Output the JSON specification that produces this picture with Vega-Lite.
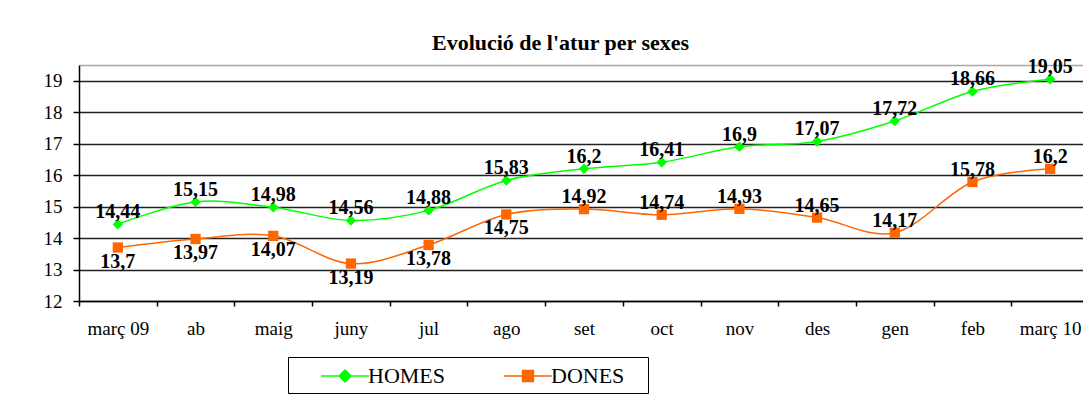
{
  "$schema": "https://vega.github.io/schema/vega-lite/v6.json",
  "width": 1003,
  "height": 236,
  "autosize": {"type": "none"},
  "padding": {"left": 79, "top": 65, "right": 1, "bottom": 108},
  "background": "#ffffff",
  "title": {
    "text": "Evolució de l'atur per sexes",
    "font": "Liberation Serif",
    "fontSize": 22,
    "fontWeight": "bold",
    "color": "#000000",
    "anchor": "middle",
    "dx": -20,
    "offset": 2
  },
  "config": {
    "view": {"stroke": null},
    "font": "Liberation Serif",
    "locale": {
      "number": {"decimal": ",", "thousands": ".", "grouping": [3], "currency": ["", " €"]}
    }
  },
  "data": {
    "values": [
      {"month": "març 09", "series": "HOMES", "value": 14.44},
      {"month": "ab", "series": "HOMES", "value": 15.15},
      {"month": "maig", "series": "HOMES", "value": 14.98},
      {"month": "juny", "series": "HOMES", "value": 14.56},
      {"month": "jul", "series": "HOMES", "value": 14.88},
      {"month": "ago", "series": "HOMES", "value": 15.83},
      {"month": "set", "series": "HOMES", "value": 16.2},
      {"month": "oct", "series": "HOMES", "value": 16.41},
      {"month": "nov", "series": "HOMES", "value": 16.9},
      {"month": "des", "series": "HOMES", "value": 17.07},
      {"month": "gen", "series": "HOMES", "value": 17.72},
      {"month": "feb", "series": "HOMES", "value": 18.66},
      {"month": "març 10", "series": "HOMES", "value": 19.05},
      {"month": "març 09", "series": "DONES", "value": 13.7},
      {"month": "ab", "series": "DONES", "value": 13.97},
      {"month": "maig", "series": "DONES", "value": 14.07},
      {"month": "juny", "series": "DONES", "value": 13.19},
      {"month": "jul", "series": "DONES", "value": 13.78},
      {"month": "ago", "series": "DONES", "value": 14.75},
      {"month": "set", "series": "DONES", "value": 14.92},
      {"month": "oct", "series": "DONES", "value": 14.74},
      {"month": "nov", "series": "DONES", "value": 14.93},
      {"month": "des", "series": "DONES", "value": 14.65},
      {"month": "gen", "series": "DONES", "value": 14.17},
      {"month": "feb", "series": "DONES", "value": 15.78},
      {"month": "març 10", "series": "DONES", "value": 16.2}
    ]
  },
  "encoding": {
    "x": {
      "field": "month",
      "type": "ordinal",
      "sort": null,
      "bandPosition": 0.5,
      "scale": {
        "type": "band",
        "domain": ["març 09", "ab", "maig", "juny", "jul", "ago", "set", "oct", "nov", "des", "gen", "feb", "març 10"],
        "range": [0, 1010],
        "paddingInner": 0,
        "paddingOuter": 0
      },
      "axis": {
        "title": null,
        "labelAngle": 0,
        "labelFont": "Liberation Serif",
        "labelFontSize": 19,
        "labelColor": "#000000",
        "labelPadding": 13,
        "tickBand": "extent",
        "tickSize": 5,
        "tickColor": "#000000",
        "tickWidth": 1.5,
        "domainColor": "#000000",
        "domainWidth": 1.5,
        "grid": false
      }
    },
    "y": {
      "field": "value",
      "type": "quantitative",
      "scale": {"domain": [12, 19.5], "nice": false, "zero": false},
      "axis": {
        "title": null,
        "values": [12, 13, 14, 15, 16, 17, 18, 19, 19.5],
        "labelExpr": "datum.value === 19.5 ? '' : datum.label",
        "labelFont": "Liberation Serif",
        "labelFontSize": 19,
        "labelColor": "#000000",
        "labelPadding": 11,
        "tickSize": 6,
        "tickWidth": 1.5,
        "tickColor": {"condition": {"test": "datum.value === 19.5", "value": "transparent"}, "value": "#000000"},
        "domainColor": "#000000",
        "domainWidth": 1.5,
        "grid": true,
        "gridColor": {"condition": {"test": "datum.value === 19.5", "value": "#a8a8a8"}, "value": "#222222"},
        "gridWidth": 1.6,
        "gridOpacity": 1
      }
    },
    "color": {
      "field": "series",
      "type": "nominal",
      "scale": {"domain": ["HOMES", "DONES"], "range": ["#00ff00", "#ff6600"]},
      "legend": {
        "title": ".",
        "titleOrient": "right",
        "titleColor": "#ffffff",
        "titleFontSize": 22,
        "titlePadding": 12,
        "orient": "none",
        "legendX": 209,
        "legendY": 292,
        "direction": "horizontal",
        "columns": 2,
        "strokeColor": "#000000",
        "padding": 6,
        "columnPadding": 31,
        "symbolOffset": 38,
        "labelOffset": 10,
        "labelFont": "Liberation Serif",
        "labelFontSize": 22,
        "labelColor": "#000000",
        "labelExpr": "datum.label + '\u2003'",
        "symbolSize": 576,
        "encode": {
          "symbols": {
            "update": {
              "shape": {"signal": "datum.value === 'HOMES' ? 'M-2,0H2M0,-0.5L0.5,0L0,0.5L-0.5,0Z' : 'M-2,0H2M-0.45,-0.45H0.45V0.45H-0.45Z'"},
              "stroke": {"signal": "datum.value === 'HOMES' ? '#00ff00' : '#ff6600'"},
              "fill": {"signal": "datum.value === 'HOMES' ? '#00ff00' : '#ff6600'"},
              "strokeWidth": {"value": 1.5},
              "opacity": {"value": 1},
              "fillOpacity": {"value": 1},
              "strokeOpacity": {"value": 1},
              "size": {"value": 576}
            }
          }
        }
      }
    }
  },
  "layer": [
    {
      "mark": {"type": "line", "interpolate": "cardinal", "strokeWidth": 1.5}
    },
    {
      "transform": [{"filter": "datum.series === 'HOMES'"}],
      "mark": {"type": "point", "shape": "diamond", "filled": true, "size": 110, "opacity": 1}
    },
    {
      "transform": [{"filter": "datum.series === 'DONES'"}],
      "mark": {"type": "point", "shape": "square", "filled": true, "size": 105, "opacity": 1}
    },
    {
      "transform": [
        {"filter": "datum.series === 'HOMES' || indexof(['set', 'oct', 'nov', 'des', 'gen', 'feb', 'març 10'], datum.month) >= 0"}
      ],
      "mark": {"type": "text", "font": "Liberation Serif", "fontSize": 20, "fontWeight": "bold", "baseline": "alphabetic", "dy": -6},
      "encoding": {
        "text": {"field": "value", "type": "quantitative", "format": ".4~g"},
        "color": {"value": "#000000"}
      }
    },
    {
      "transform": [
        {"filter": "datum.series === 'DONES' && indexof(['set', 'oct', 'nov', 'des', 'gen', 'feb', 'març 10'], datum.month) < 0"}
      ],
      "mark": {"type": "text", "font": "Liberation Serif", "fontSize": 20, "fontWeight": "bold", "baseline": "alphabetic", "dy": 20},
      "encoding": {
        "text": {"field": "value", "type": "quantitative", "format": ".4~g"},
        "color": {"value": "#000000"}
      }
    }
  ]
}
